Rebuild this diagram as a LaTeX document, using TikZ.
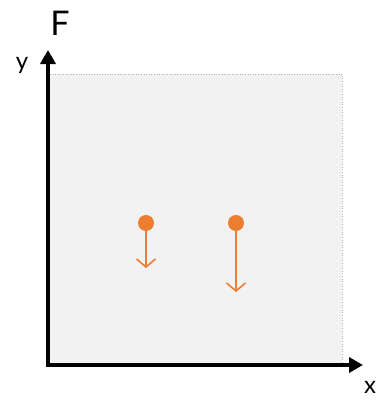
\documentclass[tikz,border=0pt]{standalone}
\usepackage{fontspec}
\setmainfont{Lato}
\usetikzlibrary{arrows.meta}
\definecolor{orng}{HTML}{ED7D31}
\definecolor{panel}{HTML}{F2F2F2}
\tikzset{
  axis/.style={line width=4pt, -{Triangle[length=14pt,width=15pt]}},
  force/.style={orng, line width=1.6pt, -{Straight Barb[length=8pt,width=19pt,line width=1.6pt]}},
  dot/.style={circle, fill=orng, inner sep=0pt, minimum size=16pt},
  lbl/.style={inner sep=0pt, font=\fontsize{24}{26}\selectfont}
}
\begin{document}
\begin{tikzpicture}[x=1pt,y=-1pt]
\useasboundingbox (0,0) rectangle (380,400);
\fill[panel] (50,74) rectangle (342,364);
\draw[gray!60, dotted, line width=0.6pt] (50,74) -- (342,74) -- (342,364);
\coordinate (ytip) at (48,50);
\coordinate (xtip) at (363,365);
\draw[axis] (48,367) -- (ytip);
\draw[axis] (46,365) -- (xtip);
\node[lbl, font=\fontsize{34}{36}\selectfont] (F) at (60,23) {F};
\node[lbl] (y) at (22,65) {y};
\node[lbl] (x) at (370,387) {x};
\node[dot] (d1) at (146,223) {};
\node[dot] (d2) at (236,223) {};
\coordinate (e1) at (146,268);
\coordinate (e2) at (236,292);
\draw[force] (d1.center) -- (e1);
\draw[force] (d2.center) -- (e2);
\end{tikzpicture}
\end{document}
